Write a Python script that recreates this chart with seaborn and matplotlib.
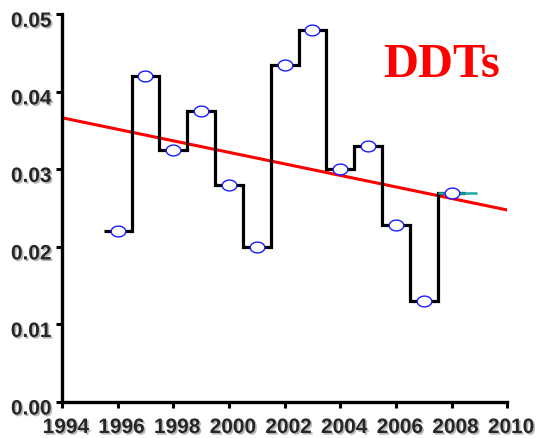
import numpy as np
import pandas as pd
import matplotlib
matplotlib.use("Agg")
import matplotlib.pyplot as plt
import matplotlib.patheffects as pe
from matplotlib.path import Path
from matplotlib.transforms import ScaledTranslation
import seaborn as sns

years = [1996, 1997, 1998, 1999, 2000, 2001, 2002, 2003, 2004, 2005, 2006, 2007, 2008]
ddt = [0.022, 0.042, 0.0325, 0.0375, 0.028, 0.020, 0.0435, 0.048, 0.030, 0.033, 0.0228, 0.013, 0.027]
x_ticks = [1994, 1996, 1998, 2000, 2002, 2004, 2006, 2008, 2010]
y_ticks = [0.00, 0.01, 0.02, 0.03, 0.04, 0.05]
title = "DDTs"

df = pd.DataFrame({"year": years, "ddt": ddt})

sns.set_style("ticks")
plt.rcParams["font.family"] = ["Liberation Sans", "DejaVu Sans"]

fig = plt.figure(figsize=(5.39, 4.38), dpi=100)
ax = fig.add_axes([0.115, 0.0822, 0.826, 0.885])
ax.set_xlim(1994, 2010)
ax.set_ylim(0, 0.05)

# step line (each year's value held over +/- half a year)
yr = np.array(years, dtype=float)
edges = np.concatenate([yr - 0.5, [yr[-1] + 0.5]])
ax.stairs(ddt, edges, baseline=None, color="black", linewidth=2.3, zorder=3)
ax.stairs(ddt[-1:], [edges[-2], yr[-1] + 0.9], baseline=None, color="#1fa5a5",
          linewidth=1.8, zorder=3.5)

# trend line
sns.regplot(data=df, x="year", y="ddt", ax=ax, scatter=False, ci=None, truncate=False,
            line_kws=dict(color="red", linewidth=2.2, zorder=2))

# ellipse markers
t = np.linspace(0, 2 * np.pi, 60)
ell = Path(np.column_stack([1.35 * np.cos(t), np.sin(t)]), closed=True)
sns.scatterplot(data=df, x="year", y="ddt", ax=ax, marker=ell, s=110,
                facecolor="white", edgecolor="#1a1aff", linewidth=1.0, zorder=5)

ax.set_xlabel("")
ax.set_ylabel("")
ax.set_xticks(x_ticks)
ax.set_yticks(y_ticks)
ax.set_xticklabels([str(v) for v in x_ticks])
ax.set_yticklabels([f"{v:.2f}" for v in y_ticks])
ax.tick_params(axis="x", direction="out", length=4, width=2.2, color="black", pad=7.5)
ax.tick_params(axis="y", direction="out", length=4, width=2.2, color="black", pad=3.5)
shadow = [pe.withSimplePatchShadow(offset=(1.2, -1.2), shadow_rgbFace="#888888", alpha=0.6)]
for lab in ax.get_xticklabels():
    lab.set_fontweight("bold")
    lab.set_fontsize(15)
    lab.set_path_effects(shadow)
    lab.set_transform(lab.get_transform() + ScaledTranslation(0.04, 0, fig.dpi_scale_trans))
for lab in ax.get_yticklabels():
    lab.set_fontweight("bold")
    lab.set_fontsize(15)
    lab.set_path_effects(shadow)
    lab.set_transform(lab.get_transform() + ScaledTranslation(0, -0.05, fig.dpi_scale_trans))
for s in ["left", "bottom"]:
    ax.spines[s].set_linewidth(2.4)
    ax.spines[s].set_color("black")
sns.despine(ax=ax)

ax.text(0.852, 0.870, title, transform=ax.transAxes, ha="center", va="center",
        fontsize=35, fontweight="bold", color="red", family=["Liberation Serif", "DejaVu Serif"])

fig.savefig("out.png", dpi=100, facecolor="white")
